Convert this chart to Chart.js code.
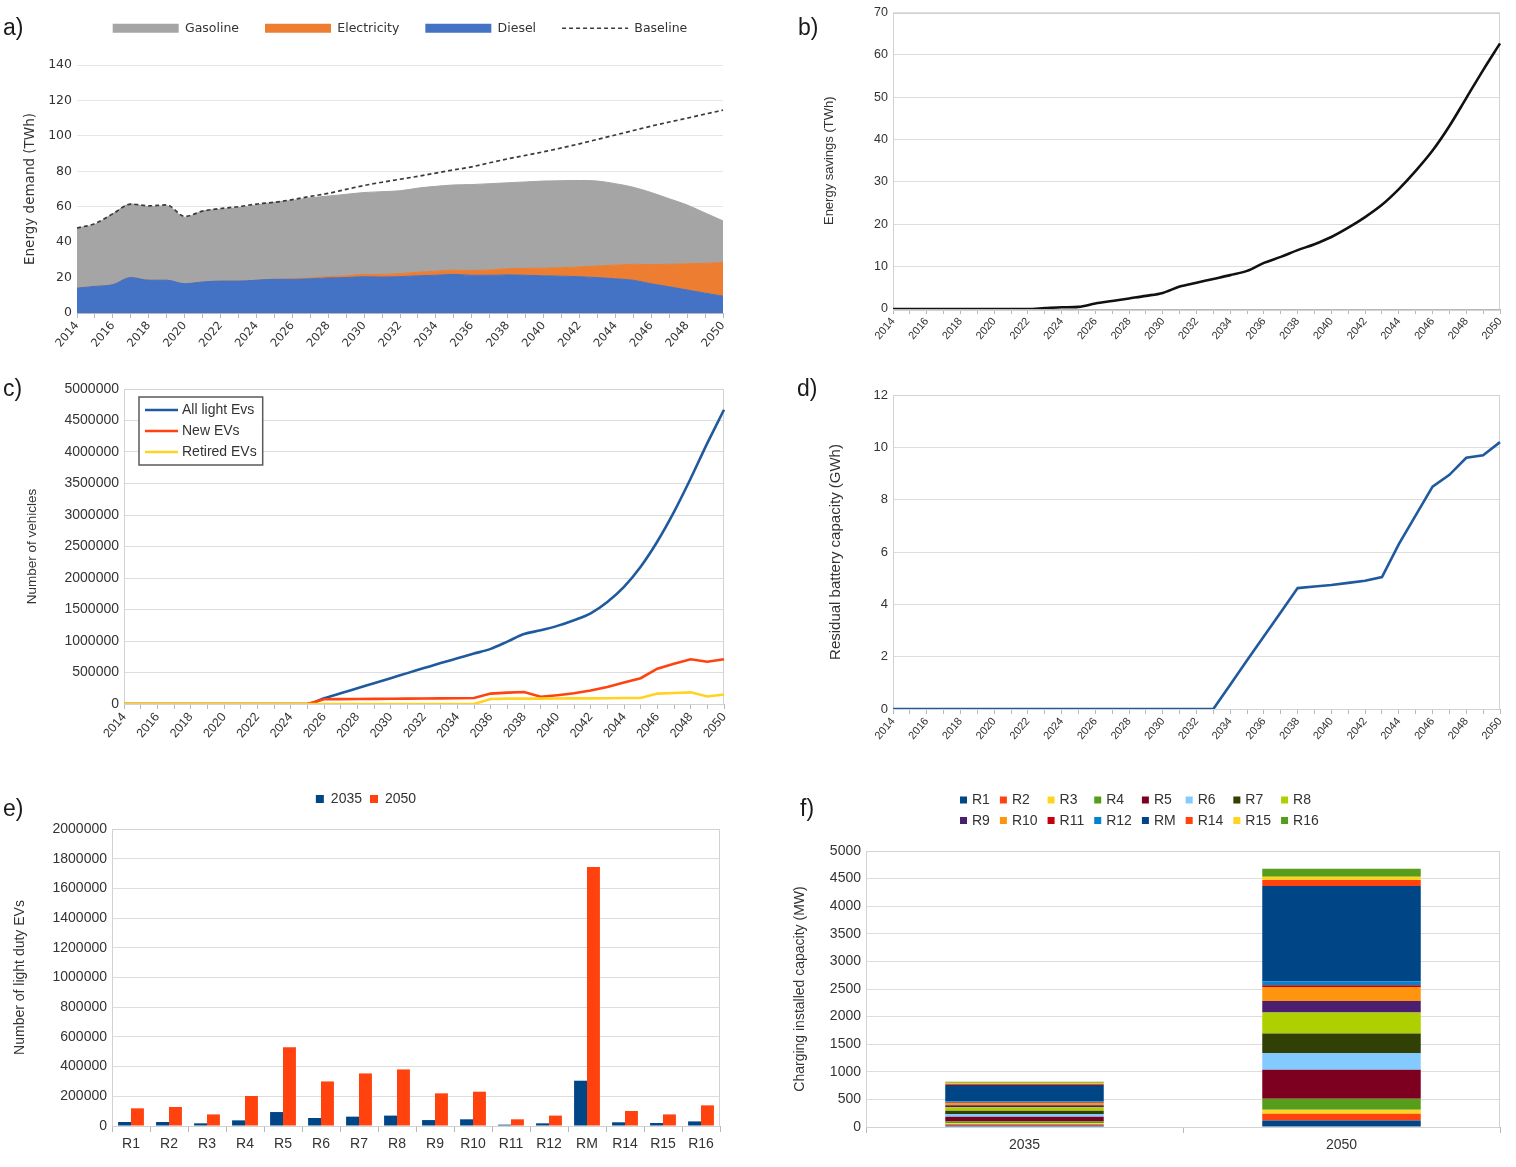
<!DOCTYPE html>
<html>
<head>
<meta charset="utf-8">
<title>EV scenario charts</title>
<script src="https://cdn.jsdelivr.net/npm/chart.js@4.4.1/dist/chart.umd.min.js"></script>
<style>
html,body{margin:0;padding:0;background:#fff;}
body{width:1516px;height:1167px;position:relative;overflow:hidden;font-family:"Liberation Sans",Arial,sans-serif;}
.panel{position:absolute;}
.panel canvas{display:block;}
.tag{position:absolute;font-size:23px;color:#1a1a1a;line-height:1;}
</style>
</head>
<body>
<div class="panel" style="left:0;top:0"><canvas id="chA" width="740" height="370"></canvas></div>
<div class="panel" style="left:760px;top:0"><canvas id="chB" width="756" height="370"></canvas></div>
<div class="panel" style="left:0;top:375px"><canvas id="chC" width="740" height="390"></canvas></div>
<div class="panel" style="left:760px;top:375px"><canvas id="chD" width="756" height="390"></canvas></div>
<div class="panel" style="left:0;top:780px"><canvas id="chE" width="740" height="387"></canvas></div>
<div class="panel" style="left:760px;top:780px"><canvas id="chF" width="756" height="387"></canvas></div>
<div class="tag" style="left:3px;top:16px">a)</div>
<div class="tag" style="left:798px;top:16px">b)</div>
<div class="tag" style="left:3px;top:377px">c)</div>
<div class="tag" style="left:797px;top:377px">d)</div>
<div class="tag" style="left:3px;top:797px">e)</div>
<div class="tag" style="left:800px;top:797px">f)</div>
<script>
// ---------------- data ----------------
const years = ['2014','2015','2016','2017','2018','2019','2020','2021','2022','2023','2024','2025','2026','2027','2028','2029','2030','2031','2032','2033','2034','2035','2036','2037','2038','2039','2040','2041','2042','2043','2044','2045','2046','2047','2048','2049','2050'];

// a) energy demand (TWh)
const dieselTWh = [14,15,16,20,18.5,18.5,16.5,17.5,18,18,18.5,19,19,19.3,19.8,20,20.5,20.3,20.5,21,21.3,21.8,21.3,21.3,21.5,21.3,21,20.8,20.5,20,19.3,18.5,16.5,14.8,13,11.2,9.5];
const electricityTWh = [0,0,0,0,0,0,0,0,0,0,0,0,0.2,0.4,0.7,1.0,1.3,1.5,1.7,2.0,2.3,2.4,2.7,3.0,3.5,3.9,4.3,4.8,5.5,6.5,7.7,9,10.8,12.7,14.8,16.8,19];
const gasolineTWh = [34,35,40,41.5,41.5,42,37.5,40,40.5,41.5,42.5,43.5,44.3,45.3,45.5,46,46.2,46.7,46.8,47.5,47.9,48.1,48.5,48.7,48.5,48.8,49.2,49.1,48.8,48,46,43.5,40.7,37,33.2,28.5,23.5];
const baselineTWh = [48,50.5,56,61.5,60.5,61,54.5,57.5,59,60,61.5,62.5,64,65.8,67.5,69.8,72,73.8,75.5,77.2,79,80.8,82.5,84.8,87,89,91,93.2,95.5,98,100.5,103,105.5,107.8,110,112.3,114.5];

// b) energy savings (TWh)
const savingsTWh = [0,0,0,0,0,0,0,0,0,0.2,0.4,0.5,1.3,1.9,2.5,3.1,3.8,5.3,6.2,7.1,8.0,9.0,10.9,12.3,13.9,15.3,17.0,19.2,21.7,24.6,28.3,32.6,37.4,43.2,49.8,56.4,62.7];

// c) number of vehicles
const allLightEVs = [0,0,0,0,0,0,0,0,0,0,0,0,90000,170000,250000,330000,410000,490000,570000,650000,725000,800000,875000,990000,1110000,1170000,1240000,1330000,1440000,1620000,1860000,2180000,2580000,3050000,3580000,4140000,4670000];
const newEVs = [0,0,0,0,0,0,0,0,0,0,0,0,75000,78000,80000,82000,84000,86000,88000,90000,92000,95000,165000,180000,190000,115000,140000,170000,215000,270000,340000,410000,560000,640000,710000,670000,710000];
const retiredEVs = [0,0,0,0,0,0,0,0,0,0,0,0,0,0,0,0,0,0,0,0,0,0,80000,85000,85000,85000,88000,90000,90000,92000,95000,95000,165000,175000,185000,120000,150000];

// d) residual battery capacity (GWh)
const residualGWh = [0,0,0,0,0,0,0,0,0,0,0,0,0,0,0,0,0,0,0,0,0.93,1.86,2.78,3.7,4.62,4.68,4.74,4.82,4.9,5.04,6.3,7.4,8.5,8.95,9.6,9.7,10.2];

// e) light duty EVs per region
const regions = ['R1','R2','R3','R4','R5','R6','R7','R8','R9','R10','R11','R12','RM','R14','R15','R16'];
const evs2035 = [27000,27000,18000,38000,94000,54000,63000,70000,40000,45000,9000,18000,305000,25000,20000,31000];
const evs2050 = [119000,128000,78000,202000,531000,300000,354000,381000,220000,231000,45000,70000,1744000,101000,78000,139000];

// f) charging installed capacity (MW) per region
const capYears = ['2035','2050'];
const cap2035 = [25,25,16,35,85,50,58,64,36,42,8,16,302,22,16,22];
const cap2050 = [120,120,73,200,526,302,351,381,211,254,31,72,1723,109,60,146];
const regionColors = ['#004586','#ff420e','#ffd320','#579d1c','#7e0021','#83caff','#314004','#aecf00','#4b1f6f','#ff950e','#c5000b','#0084d1','#004586','#ff420e','#ffd320','#579d1c'];

// ---------------- style helpers ----------------
const FAMILY = '"Liberation Sans", Arial, sans-serif';
const FAMILY_A = '"DejaVu Sans", "Liberation Sans", sans-serif';
Chart.defaults.font.family = FAMILY;
Chart.defaults.color = '#333';
Chart.defaults.animation = false;
Chart.defaults.responsive = false;
Chart.defaults.plugins.tooltip.enabled = false;

const framePlugin = {
  id: 'frame',
  beforeDatasetsDraw(chart, args, o) {
    const {left, top, right, bottom} = chart.chartArea;
    const ctx = chart.ctx;
    ctx.save();
    ctx.strokeStyle = (o && o.color) || '#cccccc';
    ctx.lineWidth = 1;
    ctx.strokeRect(Math.round(left) + 0.5, Math.round(top) + 0.5, Math.round(right - left) - 1, Math.round(bottom - top));
    ctx.restore();
  }
};

const fixLegend = {
  id: 'fixLegend',
  beforeUpdate(chart, args, o) {
    const lg = chart.legend;
    if (!lg || lg._fixedPatch) return;
    const orig = lg.fit;
    lg.fit = function () { orig.call(this); if (o && o.height != null) this.height = o.height; };
    lg._fixedPatch = true;
  },
  afterLayout(chart, args, o) {
    const lg = chart.legend;
    if (lg && o && o.dy) { lg.top += o.dy; lg.bottom += o.dy; }
  }
};

const gridLegend = {
  id: 'gridLegend',
  afterDraw(chart, args, o) {
    if (!o || !o.display) return;
    const ctx = chart.ctx, ds = chart.data.datasets;
    const order = ds.map((_, i) => i);
    const cols = o.cols || 1;
    const rows = Math.ceil(order.length / cols);
    ctx.save();
    ctx.font = o.size + 'px ' + (o.family || FAMILY);
    const colW = [];
    for (let c = 0; c < cols; c++) {
      let m = 0;
      for (let r = 0; r < rows; r++) {
        const k = r * cols + c;
        if (k < order.length) m = Math.max(m, ctx.measureText(ds[order[k]].label).width);
      }
      colW.push(o.swatchW + o.textGap + m);
    }
    const totalW = colW.reduce((a, b) => a + b, 0) + o.colGap * (cols - 1);
    if (o.frame) {
      const fx = o.x - o.framePad, fy = o.y - o.rowH / 2 - o.framePadY;
      const fw = totalW + 2 * o.framePad, fh = rows * o.rowH + 2 * o.framePadY;
      ctx.fillStyle = '#ffffff';
      ctx.fillRect(fx, fy, fw, fh);
      ctx.strokeStyle = o.frame;
      ctx.lineWidth = o.frameWidth || 1;
      ctx.strokeRect(fx, fy, fw, fh);
    }
    ctx.textBaseline = 'middle';
    ctx.textAlign = 'left';
    let k = 0;
    for (let r = 0; r < rows; r++) {
      let x = o.x;
      const y = o.y + r * o.rowH;
      for (let c = 0; c < cols && k < order.length; c++, k++) {
        const d = ds[order[k]];
        if (o.kind === 'line') {
          ctx.strokeStyle = d.borderColor;
          ctx.lineWidth = o.lineW || 2.5;
          ctx.beginPath(); ctx.moveTo(x, y); ctx.lineTo(x + o.swatchW, y); ctx.stroke();
        } else {
          ctx.fillStyle = d.backgroundColor;
          ctx.fillRect(x, y - o.swatchH / 2, o.swatchW, o.swatchH);
        }
        ctx.fillStyle = o.color || '#333';
        ctx.fillText(d.label, x + o.swatchW + o.textGap, y + 0.5);
        x += colW[c] + o.colGap;
      }
    }
    ctx.restore();
  }
};

function evenYearTick(value) {
  const l = this.getLabelForValue(value);
  return Number(l) % 2 === 0 ? l : '';
}

function yearScale(fontSize, height, family) {
  return {
    type: 'category',
    offset: false,
    grid: { display: true, drawOnChartArea: false, drawTicks: true, tickLength: 5, color: '#b8b8b8' },
    border: { display: true, color: '#b8b8b8' },
    ticks: { autoSkip: false, minRotation: 50, maxRotation: 50, padding: 1, color: '#333',
             font: { size: fontSize, family: family || FAMILY }, callback: evenYearTick },
    afterFit(scale) { scale.height = height; }
  };
}

function valueScale(o) {
  return {
    type: 'linear', min: o.min, max: o.max, stacked: !!o.stacked,
    grid: { color: o.grid || '#dddddd', drawTicks: false, lineWidth: 1 },
    border: { display: false },
    ticks: { stepSize: o.step, padding: o.tickPad || 5, color: '#333',
             font: { size: o.tickSize, family: o.family || FAMILY }, callback: v => String(v) },
    title: { display: true, text: o.title, color: '#333',
             font: { size: o.titleSize, family: o.family || FAMILY }, padding: { top: 0, bottom: 0 } },
    afterFit(scale) { scale.width = o.width; }
  };
}

function catScale(fontSize, height, stacked) {
  return {
    type: 'category', stacked: !!stacked,
    grid: { display: true, drawOnChartArea: false, drawTicks: true, tickLength: 6, color: '#b8b8b8', offset: true },
    border: { display: true, color: '#b8b8b8' },
    ticks: { autoSkip: false, maxRotation: 0, minRotation: 0, padding: 4, color: '#333', font: { size: fontSize } },
    afterFit(scale) { scale.height = height; }
  };
}

// ---------------- a) energy demand ----------------
new Chart(document.getElementById('chA'), {
  type: 'line',
  data: {
    labels: years,
    datasets: [
      { label: 'Diesel', data: dieselTWh, backgroundColor: '#4472c4', borderColor: '#4472c4', borderWidth: 1,
        fill: 'origin', stack: 'fuel', pointRadius: 0, cubicInterpolationMode: 'monotone' },
      { label: 'Electricity', data: electricityTWh, backgroundColor: '#ed7d31', borderColor: '#ed7d31', borderWidth: 1,
        fill: '-1', stack: 'fuel', pointRadius: 0, cubicInterpolationMode: 'monotone' },
      { label: 'Gasoline', data: gasolineTWh, backgroundColor: '#a5a5a5', borderColor: '#a5a5a5', borderWidth: 1,
        fill: '-1', stack: 'fuel', pointRadius: 0, cubicInterpolationMode: 'monotone' },
      { label: 'Baseline', data: baselineTWh, borderColor: '#3a3a3a', borderWidth: 1.7, borderDash: [4, 3],
        fill: false, stack: 'base', order: -1, pointRadius: 0, cubicInterpolationMode: 'monotone' }
    ]
  },
  options: {
    layout: { padding: { left: 22, right: 17, top: 0, bottom: 0 } },
    plugins: {
      legend: {
        display: true, position: 'top', fullSize: false, align: 'center',
        labels: {
          usePointStyle: true, pointStyleWidth: 66, boxHeight: 9, padding: 26, color: '#333',
          font: { size: 12.5, family: FAMILY_A },
          generateLabels(chart) {
            return [2, 1, 0, 3].map(i => {
              const d = chart.data.datasets[i];
              const isLine = !!d.borderDash;
              return { text: d.label, datasetIndex: i, hidden: false, fontColor: '#333',
                       fillStyle: isLine ? 'rgba(0,0,0,0)' : d.backgroundColor,
                       strokeStyle: d.borderColor, lineWidth: isLine ? 1.7 : 0,
                       lineDash: isLine ? d.borderDash : [], pointStyle: isLine ? 'line' : 'rect' };
            });
          }
        }
      },
      fixLegend: { height: 65, dy: -4 }
    },
    scales: {
      x: yearScale(11.5, 57, FAMILY_A),
      y: Object.assign(valueScale({ min: 0, max: 140, step: 20, title: 'Energy demand (TWh)', titleSize: 13.5,
                                     tickSize: 12.5, width: 55, stacked: true, family: FAMILY_A, grid: '#e6e6e6' }))
    }
  },
  plugins: [fixLegend]
});

// ---------------- b) energy savings ----------------
new Chart(document.getElementById('chB'), {
  type: 'line',
  data: { labels: years, datasets: [
    { label: 'Energy savings', data: savingsTWh, borderColor: '#111111', borderWidth: 2.6, pointRadius: 0,
      fill: false, cubicInterpolationMode: 'monotone' }
  ] },
  options: {
    layout: { padding: { left: 62, right: 16, top: 10, bottom: 0 } },
    plugins: { legend: { display: false }, frame: { color: '#d2d2d2' } },
    scales: {
      x: yearScale(11, 61),
      y: valueScale({ min: 0, max: 70, step: 10, title: 'Energy savings (TWh)', titleSize: 13, tickSize: 12.5, width: 71 })
    }
  },
  plugins: [framePlugin]
});

// ---------------- c) number of vehicles ----------------
new Chart(document.getElementById('chC'), {
  type: 'line',
  data: { labels: years, datasets: [
    { label: 'All light Evs', data: allLightEVs, borderColor: '#1f5a9e', borderWidth: 2.6, pointRadius: 0,
      fill: false, order: 0, cubicInterpolationMode: 'monotone' },
    { label: 'New EVs', data: newEVs, borderColor: '#ff420e', borderWidth: 2.6, pointRadius: 0,
      fill: false, order: -1 },
    { label: 'Retired EVs', data: retiredEVs, borderColor: '#ffd320', borderWidth: 2.6, pointRadius: 0,
      fill: false, order: -2 }
  ] },
  options: {
    layout: { padding: { left: 24, right: 16, top: 14, bottom: 0 } },
    plugins: {
      legend: { display: false },
      frame: { color: '#d2d2d2' },
      gridLegend: { display: true, kind: 'line', x: 145, y: 35, rowH: 21, cols: 1, swatchW: 33, textGap: 4,
                    colGap: 0, size: 14, frame: '#5a5a5a', frameWidth: 1.5, framePad: 6, framePadY: 2.5, lineW: 2.6 }
    },
    scales: {
      x: yearScale(12.5, 61),
      y: valueScale({ min: 0, max: 5000000, step: 500000, title: 'Number of vehicles', titleSize: 13.5, tickSize: 14, width: 100 })
    }
  },
  plugins: [framePlugin, gridLegend]
});

// ---------------- d) residual battery capacity ----------------
new Chart(document.getElementById('chD'), {
  type: 'line',
  data: { labels: years, datasets: [
    { label: 'Residual battery capacity', data: residualGWh, borderColor: '#1f5a9e', borderWidth: 2.6,
      pointRadius: 0, fill: false, tension: 0 }
  ] },
  options: {
    layout: { padding: { left: 67, right: 16, top: 20, bottom: 0 } },
    plugins: { legend: { display: false }, frame: { color: '#d2d2d2' } },
    scales: {
      x: yearScale(11, 56),
      y: valueScale({ min: 0, max: 12, step: 2, title: 'Residual battery capacity (GWh)', titleSize: 15, tickSize: 13, width: 66 })
    }
  },
  plugins: [framePlugin]
});

// ---------------- e) light duty EVs per region ----------------
new Chart(document.getElementById('chE'), {
  type: 'bar',
  data: { labels: regions, datasets: [
    { label: '2035', data: evs2035, backgroundColor: '#004586', categoryPercentage: 0.68, barPercentage: 1.0 },
    { label: '2050', data: evs2050, backgroundColor: '#ff420e', categoryPercentage: 0.68, barPercentage: 1.0 }
  ] },
  options: {
    layout: { padding: { left: 12, right: 20, top: 4, bottom: 0 } },
    plugins: {
      legend: { display: true, position: 'top', align: 'center',
                labels: { boxWidth: 8, boxHeight: 8, padding: 8, color: '#333', font: { size: 14 } } },
      fixLegend: { height: 45 },
      frame: { color: '#d2d2d2' }
    },
    scales: {
      x: catScale(14, 41),
      y: valueScale({ min: 0, max: 2000000, step: 200000, title: 'Number of light duty EVs', titleSize: 14, tickSize: 14, width: 100 })
    }
  },
  plugins: [fixLegend, framePlugin]
});

// ---------------- f) charging installed capacity ----------------
new Chart(document.getElementById('chF'), {
  type: 'bar',
  data: { labels: capYears, datasets: regions.map((r, i) => ({
    label: r, data: [cap2035[i], cap2050[i]], backgroundColor: regionColors[i],
    barPercentage: 0.5, categoryPercentage: 1.0, borderWidth: 0
  })) },
  options: {
    layout: { padding: { left: 32, right: 16, top: 71, bottom: 0 } },
    plugins: {
      legend: { display: false },
      frame: { color: '#d2d2d2' },
      gridLegend: { display: true, kind: 'rect', x: 200, y: 20, rowH: 20.5, cols: 8, swatchW: 7, swatchH: 7,
                    textGap: 5, colGap: 10, size: 14 }
    },
    scales: {
      x: catScale(14, 40, true),
      y: valueScale({ min: 0, max: 5000, step: 500, title: 'Charging installed capacity (MW)', titleSize: 14, tickSize: 14, width: 74, stacked: true })
    }
  },
  plugins: [framePlugin, gridLegend]
});
</script>
</body>
</html>
